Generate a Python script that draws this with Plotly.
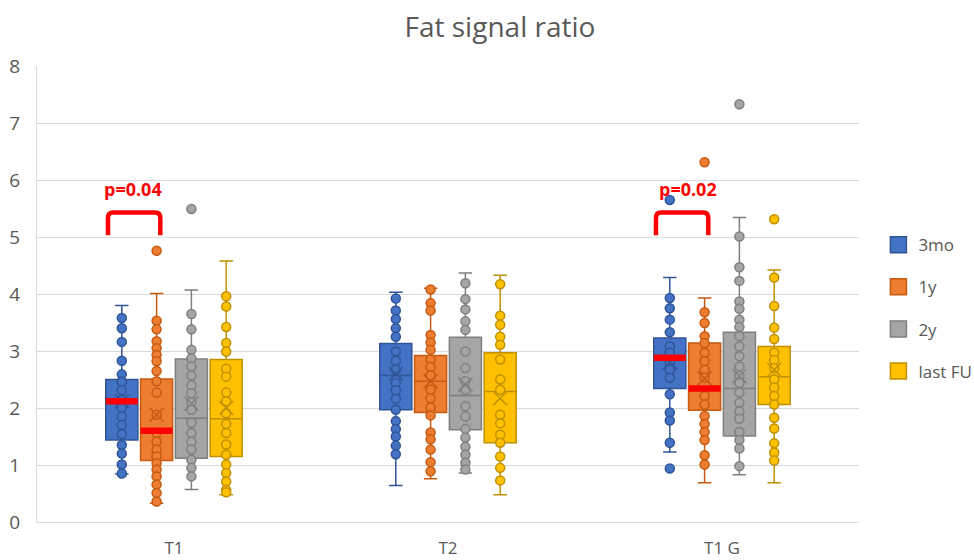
import plotly.graph_objects as go

# ---------------- data ----------------
categories = ["T1", "T2", "T1 G"]
series_names = ["3mo", "1y", "2y", "last FU"]

# box statistics per series: one value per category [T1, T2, T1 G]
q1_3mo = [1.44, 1.97, 2.34]
median_3mo = [2.12, 2.57, 2.88]
q3_3mo = [2.50, 3.13, 3.23]
lower_3mo = [0.84, 0.64, 1.23]
upper_3mo = [3.80, 4.03, 4.29]
mean_3mo = [2.12, 2.60, 2.80]

q1_1y = [1.08, 1.92, 1.96]
median_1y = [1.60, 2.47, 2.34]
q3_1y = [2.51, 2.92, 3.14]
lower_1y = [0.33, 0.76, 0.69]
upper_1y = [4.01, 4.10, 3.93]
mean_1y = [1.88, 2.47, 2.52]

q1_2y = [1.12, 1.62, 1.51]
median_2y = [1.82, 2.22, 2.34]
q3_2y = [2.86, 3.24, 3.33]
lower_2y = [0.57, 0.86, 0.83]
upper_2y = [4.07, 4.37, 5.34]
mean_2y = [2.08, 2.41, 2.56]

q1_fu = [1.15, 1.39, 2.06]
median_fu = [1.81, 2.29, 2.55]
q3_fu = [2.85, 2.97, 3.08]
lower_fu = [0.48, 0.48, 0.69]
upper_fu = [4.58, 4.33, 4.42]
mean_fu = [2.00, 2.17, 2.67]

# individual data points per series, per category
points_3mo = [
    [3.58, 3.40, 3.16, 2.83, 2.59, 2.46, 2.31, 2.14, 2.00, 1.85, 1.70, 1.54, 1.35, 1.20, 1.01, 0.85],
    [3.92, 3.71, 3.56, 3.40, 3.25, 2.99, 2.83, 2.67, 2.44, 2.31, 2.16, 1.97, 1.77, 1.63, 1.50, 1.34, 1.19],
    [5.65, 3.93, 3.75, 3.55, 3.33, 3.08, 2.97, 2.79, 2.67, 2.53, 2.24, 1.92, 1.78, 1.39, 0.94],
]
points_1y = [
    [4.76, 3.53, 3.38, 3.17, 3.05, 2.93, 2.82, 2.65, 2.47, 2.27, 1.88, 1.56, 1.41, 1.27, 1.15, 1.03, 0.92, 0.80, 0.66, 0.51, 0.36],
    [4.08, 3.84, 3.71, 3.28, 3.15, 3.02, 2.85, 2.72, 2.57, 2.32, 2.17, 2.01, 1.87, 1.57, 1.45, 1.27, 1.05, 0.89],
    [6.31, 3.68, 3.49, 3.26, 3.14, 2.97, 2.82, 2.67, 2.53, 2.21, 2.06, 1.86, 1.72, 1.58, 1.44, 1.17, 1.01],
]
points_2y = [
    [5.49, 3.65, 3.38, 3.02, 2.87, 2.73, 2.57, 2.40, 2.26, 2.10, 1.97, 1.74, 1.56, 1.41, 1.27, 1.09, 0.95, 0.80],
    [4.19, 3.91, 3.73, 3.52, 3.37, 2.99, 2.70, 2.47, 2.32, 2.03, 1.85, 1.63, 1.48, 1.32, 1.18, 1.04, 0.92],
    [7.33, 5.01, 4.47, 4.23, 3.87, 3.74, 3.55, 3.42, 3.26, 3.08, 2.91, 2.73, 2.56, 2.44, 2.27, 2.09, 1.94, 1.81, 1.58, 1.44, 1.29, 0.98],
]
points_fu = [
    [3.96, 3.78, 3.42, 3.14, 2.99, 2.69, 2.55, 2.27, 2.12, 1.91, 1.72, 1.56, 1.36, 1.18, 1.01, 0.86, 0.71, 0.56, 0.52],
    [4.17, 3.62, 3.46, 3.25, 3.11, 2.85, 2.50, 2.32, 1.88, 1.73, 1.53, 1.39, 1.15, 0.95, 0.73],
    [5.31, 4.29, 3.79, 3.41, 3.21, 2.97, 2.84, 2.70, 2.50, 2.36, 2.21, 2.06, 1.83, 1.64, 1.38, 1.22, 1.08],
]

# highlighted medians (category index, series index)
highlighted = [(0, 0), (0, 1), (2, 0), (2, 1)]
# significance labels per category
p_labels = ["p=0.04", None, "p=0.02"]

# ---------------- styling ----------------
fills = ["#4472C4", "#ED7D31", "#A5A5A5", "#FFC000"]
edges = ["#2F5597", "#C55A11", "#7F7F7F", "#BF9000"]
TXT = "#595959"
GRID = "#D9D9D9"
FONT = "Open Sans"

step = 0.127
box_w = 0.117
p_text_dx = [-0.151, 0.0, -0.124]

stats = [
    (q1_3mo, median_3mo, q3_3mo, lower_3mo, upper_3mo, mean_3mo, points_3mo),
    (q1_1y, median_1y, q3_1y, lower_1y, upper_1y, mean_1y, points_1y),
    (q1_2y, median_2y, q3_2y, lower_2y, upper_2y, mean_2y, points_2y),
    (q1_fu, median_fu, q3_fu, lower_fu, upper_fu, mean_fu, points_fu),
]

fig = go.Figure()

def pos(ci, si):
    return ci + (si - 1.5) * step

for si, name in enumerate(series_names):
    q1, med, q3, lo, hi, mn, pts = stats[si]
    xs = [pos(ci, si) for ci in range(len(categories))]
    fig.add_trace(go.Box(
        name=name, x=xs, q1=q1, median=med, q3=q3,
        lowerfence=lo, upperfence=hi,
        width=box_w, whiskerwidth=0.42,
        fillcolor=fills[si], line=dict(color=edges[si], width=1.5),
        boxpoints=False, legendgroup=name, showlegend=False,
        hoverinfo="skip",
    ))

for si, name in enumerate(series_names):
    q1, med, q3, lo, hi, mn, pts = stats[si]
    px, py = [], []
    for ci in range(len(categories)):
        for v in pts[ci]:
            px.append(pos(ci, si))
            py.append(v)
    fig.add_trace(go.Scatter(
        x=px, y=py, mode="markers", legendgroup=name, showlegend=False,
        marker=dict(size=9, color=fills[si], line=dict(color=edges[si], width=1.5)),
        hoverinfo="skip",
    ))
    fig.add_trace(go.Scatter(
        x=[pos(ci, si) for ci in range(len(categories))], y=mn,
        mode="markers", legendgroup=name, showlegend=False,
        marker=dict(size=14, symbol="x-thin-open", color=edges[si],
                    line=dict(color=edges[si], width=1.5)),
        hoverinfo="skip",
    ))
    # legend entry (square swatch)
    fig.add_trace(go.Scatter(
        x=[None], y=[None], mode="markers", name=name, legendgroup=name, showlegend=True,
        marker=dict(size=16, symbol="square", color=fills[si], line=dict(color=edges[si], width=1.5)),
    ))

# red highlighted medians
for ci, si in highlighted:
    m = stats[si][1][ci]
    c = pos(ci, si)
    fig.add_trace(go.Scatter(
        x=[c - box_w / 2, c + box_w / 2], y=[m, m], mode="lines",
        line=dict(color="#FF0000", width=6.5), showlegend=False, hoverinfo="skip",
    ))

# significance brackets
yb, yt, rx, ry = 5.03, 5.43, 0.018, 0.1
for ci, lab in enumerate(p_labels):
    if lab is None:
        continue
    x0, x1 = ci - 0.241, ci - 0.05
    path = (f"M {x0},{yb} L {x0},{yt - ry} Q {x0},{yt} {x0 + rx},{yt} "
            f"L {x1 - rx},{yt} Q {x1},{yt} {x1},{yt - ry} L {x1},{yb}")
    fig.add_shape(type="path", path=path, xref="x", yref="y",
                  line=dict(color="#FF0000", width=4.5))
    fig.add_annotation(x=ci + p_text_dx[ci], y=5.84, xref="x", yref="y", text=f"<b>{lab}</b>",
                       showarrow=False, font=dict(color="#FF0000", size=18, family=FONT))

fig.update_layout(
    width=974, height=560,
    margin=dict(l=37, r=115, t=66, b=38, autoexpand=False),
    paper_bgcolor="white", plot_bgcolor="white",
    font=dict(family=FONT, color=TXT, size=17),
    title=dict(text="Fat signal ratio", x=0.5133, xref="container", xanchor="center",
               y=0.952, yref="container", yanchor="middle",
               font=dict(size=28, color=TXT, family=FONT)),
    showlegend=True,
    legend=dict(x=1.0236, xanchor="left", y=0.469, yanchor="middle",
                font=dict(size=17, color=TXT, family=FONT),
                tracegroupgap=17, traceorder="grouped", bgcolor="rgba(0,0,0,0)"),
)
fig.update_xaxes(
    range=[-0.5, 2.5], tickvals=list(range(len(categories))), ticktext=categories,
    showgrid=False, zeroline=False, showline=True, linecolor=GRID, linewidth=1.3,
    ticks="outside", ticklen=10, tickcolor="rgba(0,0,0,0)", automargin=False,
    tickfont=dict(size=17, color=TXT, family=FONT),
)
fig.update_yaxes(
    range=[0, 8], dtick=1, showgrid=True, gridcolor=GRID, gridwidth=1.3,
    zeroline=False, showline=True, linecolor=GRID, linewidth=1.3,
    ticks="outside", ticklen=12, tickcolor="rgba(0,0,0,0)", automargin=False,
    tickfont=dict(size=19, color=TXT, family=FONT),
)

# remove the default page margin so the 974x560 figure fills the window exactly
fig.write_html("out.html", config={"displayModeBar": False},
               post_script="document.body.style.margin='0';")
